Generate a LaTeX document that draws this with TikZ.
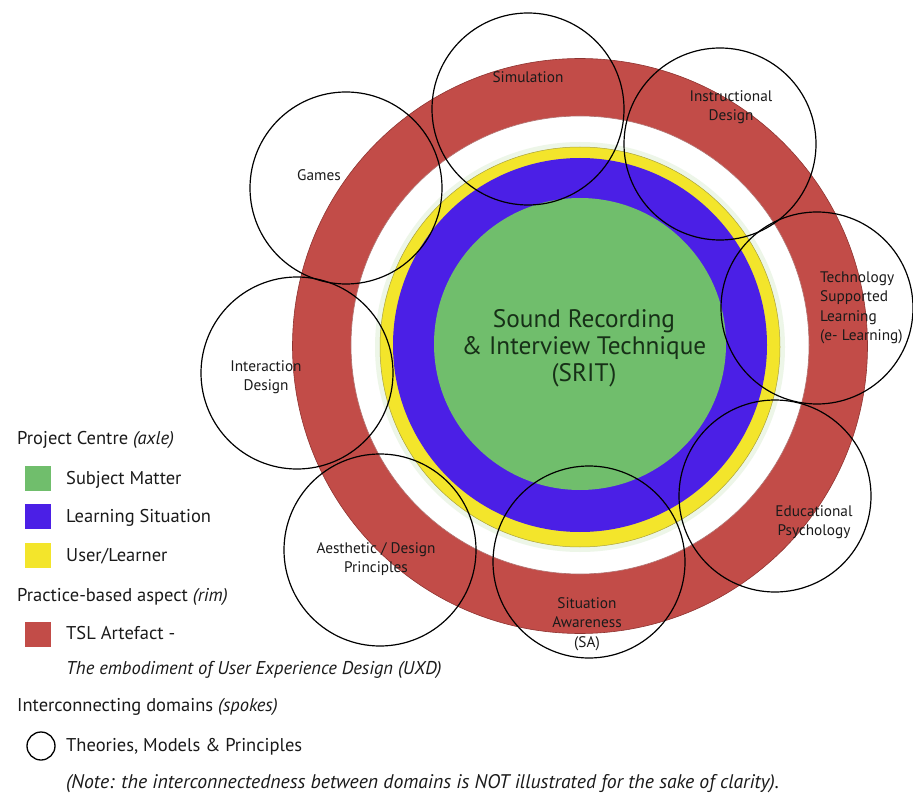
\documentclass[tikz,border=0pt]{standalone}
\usepackage{fontspec}
\setmainfont{PT Sans}
\definecolor{rimred}{HTML}{C24C48}
\definecolor{rimedge}{HTML}{8E3431}
\definecolor{lsblue}{HTML}{4B1FE6}
\definecolor{ulyellow}{HTML}{F3E52B}
\definecolor{yedge}{HTML}{A9A23A}
\definecolor{smgreen}{HTML}{70BE6C}
\definecolor{glow}{HTML}{EDF6E8}
\definecolor{labtext}{HTML}{1A1A1A}
\definecolor{centretext}{HTML}{173017}
\tikzset{
  spoke/.style={circle, draw=black, line width=1.2pt, minimum size=192pt, inner sep=0pt},
  lab/.style={font=\fontsize{15.3}{19.5}\selectfont, text=labtext, align=center, inner sep=0pt},
  legtext/.style={font=\fontsize{18.5}{22}\selectfont, text=labtext, anchor=west, inner sep=0pt},
  legnote/.style={font=\fontsize{19.7}{22}\selectfont, text=labtext, anchor=west, inner sep=0pt},
  swatch/.style={minimum width=26pt, minimum height=25pt, inner sep=0pt},
}
\begin{document}
\begin{tikzpicture}[x=1pt,y=-1pt]
\useasboundingbox (0,0) rectangle (913,794);
% rim
\fill[rimred] (580,346) circle (287.5pt);
\draw[rimedge, line width=0.6pt] (580,346) circle (287.5pt);
\fill[white] (580,345) circle (229pt);
\draw[rimedge!70, line width=0.6pt] (580,345) circle (229pt);
% glow
\draw[glow, line width=5pt] (580,347) circle (202.5pt);
% user/learner
\fill[ulyellow] (580,347) circle (200pt);
\draw[yedge, line width=0.5pt] (580,347) circle (200pt);
% learning situation
\fill[lsblue] (580,345) circle (187pt);
% subject matter
\fill[smgreen] (580,344) circle (146pt);
\node[font=\fontsize{25.3}{27}\selectfont, text=centretext, align=center, inner sep=0pt] (srit) at (584,348) {Sound Recording\\\& Interview Technique\\(SRIT)};
% spokes
\node[spoke] (sim) at (528,109) {};
\node[spoke] (ins) at (720,144) {};
\node[spoke] (tsl) at (817,308) {};
\node[spoke] (edu) at (775,496) {};
\node[spoke] (sa) at (589,562) {};
\node[spoke] (aes) at (380,550) {};
\node[spoke] (int) at (297,373) {};
\node[spoke] (gam) at (346,188) {};
% spoke labels
\node[lab] (simL) at (528,77) {Simulation};
\node[lab] (insL) at (731,107) {Instructional\\Design};
\node[lab, align=left, anchor=west] (tslL) at (820,308) {Technology\\Supported\\Learning\\(e- Learning)};
\node[lab] (eduL) at (814,522) {Educational\\Psychology};
\node[lab] (saL) at (587,624) {Situation\\Awareness\\(SA)};
\node[lab] (aesL) at (376,559) {Aesthetic / Design\\Principles};
\node[lab] (intL) at (266,377) {Interaction\\Design};
\node[lab] (gamL) at (319,175) {Games};
% legend
\node[legtext] (h1) at (17,440) {Project Centre \textit{(axle)}};
\node[swatch, fill=smgreen] (sw1) at (38,478) {};
\node[legtext] (t1) at (66,480) {Subject Matter};
\node[swatch, fill=lsblue] (sw2) at (38,516) {};
\node[legtext] (t2) at (66,518) {Learning Situation};
\node[swatch, fill=ulyellow] (sw3) at (38,555) {};
\node[legtext] (t3) at (66,556) {User/Learner};
\node[legtext] (h2) at (17,597) {Practice-based aspect \textit{(rim)}};
\node[swatch, fill=rimred] (sw4) at (38,634) {};
\node[legtext] (t4) at (66,633) {TSL Artefact -};
\node[legtext] (t5) at (66,670) {\itshape The embodiment of User Experience Design (UXD)};
\node[legtext] (h3) at (17,707) {Interconnecting domains \textit{(spokes)}};
\node[circle, draw=black, line width=1.3pt, minimum size=28pt, inner sep=0pt] (sw5) at (41,746) {};
\node[legtext] (t6) at (66,747) {Theories, Models \& Principles};
\node[legnote] (t7) at (66,784) {\itshape (Note: the interconnectedness between domains is NOT illustrated for the sake of clarity).};
\end{tikzpicture}
\end{document}
